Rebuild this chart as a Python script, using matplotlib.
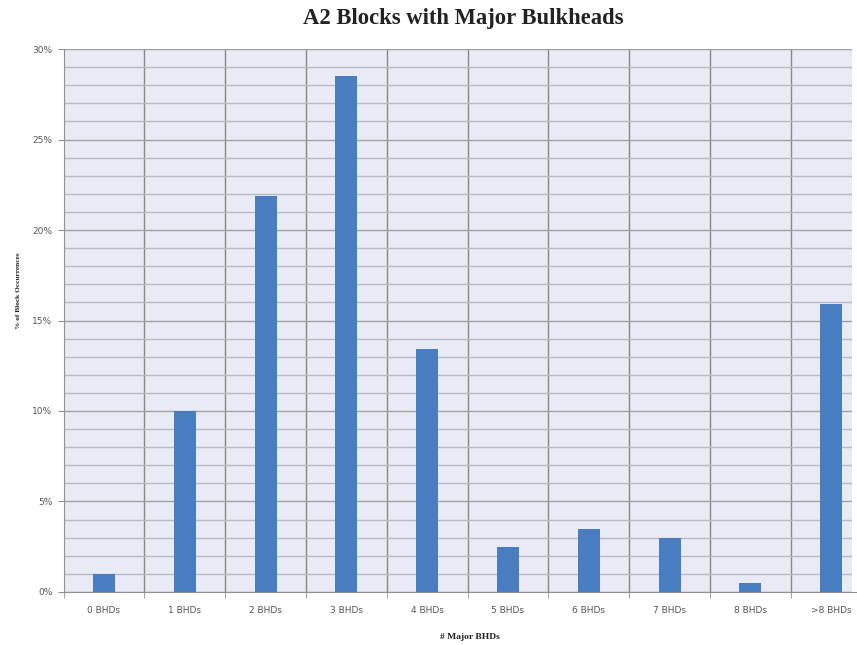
import numpy as np
import matplotlib.pyplot as plt
from matplotlib.patches import Rectangle
from matplotlib.ticker import MultipleLocator, FuncFormatter

# Share of blocks by number of major bulkheads (%)
categories = ['0 BHDs', '1 BHDs', '2 BHDs', '3 BHDs', '4 BHDs',
              '5 BHDs', '6 BHDs', '7 BHDs', '8 BHDs', '>8 BHDs']
pct_blocks = [1.0, 10.0, 21.9, 28.5, 13.4, 2.5, 3.5, 3.0, 0.5, 15.9]

fig = plt.figure(figsize=(8.57, 6.45), dpi=100)
# plot area runs a little past the right edge of the canvas
ax = fig.add_axes([0.0741, 0.0822, 0.943, 0.8418])

x = np.arange(len(categories))
ax.set_facecolor('#e8ebf3')
ax.bar(x, pct_blocks, width=0.272, color='#4a7cc0', zorder=3)

ax.set_xlim(-0.5, len(categories) - 0.5)
ax.set_ylim(0, 30)

# horizontal grid: 1% minor, 5% major; vertical lines between categories
ax.yaxis.set_major_locator(MultipleLocator(5))
ax.yaxis.set_minor_locator(MultipleLocator(1))
ax.yaxis.set_major_formatter(FuncFormatter(lambda v, p: f'{v:.0f}%'))
ax.grid(axis='y', which='major', color='#a0a2a8', linewidth=1.0, zorder=1)
ax.grid(axis='y', which='minor', color='#b8bbc2', linewidth=1.0, zorder=1)
for b in np.arange(0.5, len(categories), 1.0):
    ax.axvline(b, color='#85878d', linewidth=1.0, zorder=1)

ax.set_xticks(x)
ax.set_xticklabels(categories)
ax.set_xticks(np.arange(-0.5, len(categories), 1.0), minor=True)
ax.tick_params(axis='x', which='major', length=0, pad=10,
               labelsize=6.5, labelcolor='#555555')
ax.tick_params(axis='x', which='minor', length=4, color='#8e9096')
ax.tick_params(axis='y', which='major', length=4, color='#8e9096',
               labelsize=6.5, labelcolor='#555555', pad=4)
ax.tick_params(axis='y', which='minor', length=0)

for side in ['top', 'right']:
    ax.spines[side].set_visible(False)
ax.spines['left'].set_color('#8e9096')
ax.spines['bottom'].set_color('#8e9096')

# thin white margin down the right edge
fig.add_artist(Rectangle((0.9945, 0.0822), 0.01, 0.8418, transform=fig.transFigure,
                         facecolor='white', edgecolor='none', zorder=5))

fig.text(0.541, 0.972, 'A2 Blocks with Major Bulkheads', ha='center', va='center',
         fontsize=16.3, fontweight='bold', family='Liberation Serif', color='#222222')
fig.text(0.548, 0.012, '# Major BHDs', ha='center', va='center',
         fontsize=6.8, fontweight='bold', family='Liberation Serif', color='#222222')
fig.text(0.022, 0.55, '% of Block Occurrences', ha='center', va='center', rotation=90,
         fontsize=5.3, fontweight='bold', family='Liberation Serif', color='#222222')

fig.savefig('out.png', dpi=100)
